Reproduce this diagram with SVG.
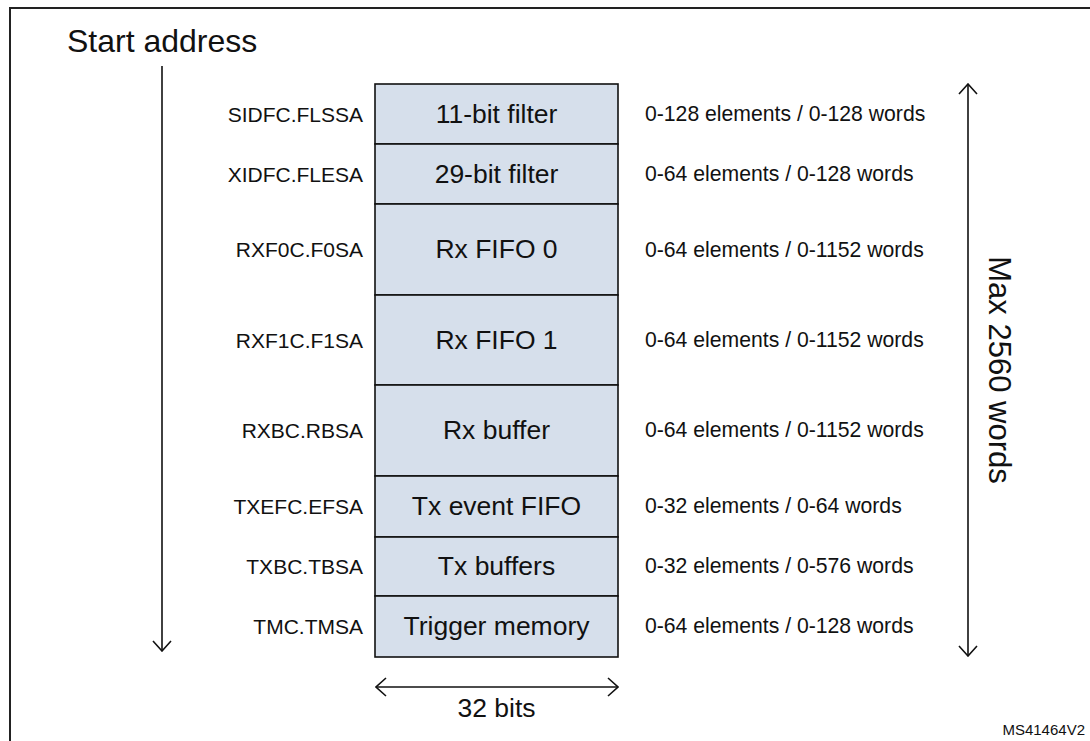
<svg xmlns="http://www.w3.org/2000/svg" width="1090" height="741" viewBox="0 0 1090 741">
<style>
text{font-family:"Liberation Sans",Arial,sans-serif;fill:#111}
.cell{fill:#d6dfeb;stroke:#111;stroke-width:1.6}
.bl{font-size:26.5px;text-anchor:middle}
.ll{font-size:21px;text-anchor:end}
.rl{font-size:21.2px}
.ln{stroke:#111;stroke-width:1.6;fill:none}
</style>
<defs>
<marker id="ah" viewBox="0 0 12 20" refX="11" refY="10" markerWidth="12" markerHeight="20" markerUnits="userSpaceOnUse" orient="auto-start-reverse">
<path d="M1,1 L11,10 L1,19" fill="none" stroke="#111" stroke-width="1.6"/>
</marker>
</defs>
<rect width="1090" height="741" fill="#fff"/>
<path d="M10,741 V8 H1090" fill="none" stroke="#222" stroke-width="2"/>
<text x="67" y="52" style="font-size:32px">Start address</text>
<g id="connectors">
<line class="ln" x1="162" y1="66" x2="162" y2="651" marker-end="url(#ah)"/>
<line class="ln" x1="968" y1="84" x2="968" y2="656" marker-start="url(#ah)" marker-end="url(#ah)"/>
<line class="ln" x1="376" y1="687" x2="618" y2="687" marker-start="url(#ah)" marker-end="url(#ah)"/>
</g>
<g id="n1"><rect class="cell" x="375" y="84" width="243" height="60"/><text class="bl" x="496.5" y="123">11-bit filter</text><text class="ll" x="363" y="122">SIDFC.FLSSA</text><text class="rl" x="645" y="121">0-128 elements / 0-128 words</text></g>
<g id="n2"><rect class="cell" x="375" y="144" width="243" height="60"/><text class="bl" x="496.5" y="183">29-bit filter</text><text class="ll" x="363" y="182">XIDFC.FLESA</text><text class="rl" x="645" y="181">0-64 elements / 0-128 words</text></g>
<g id="n3"><rect class="cell" x="375" y="204" width="243" height="91"/><text class="bl" x="496.5" y="258">Rx FIFO 0</text><text class="ll" x="363" y="257">RXF0C.F0SA</text><text class="rl" x="645" y="257">0-64 elements / 0-1152 words</text></g>
<g id="n4"><rect class="cell" x="375" y="295" width="243" height="90"/><text class="bl" x="496.5" y="349">Rx FIFO 1</text><text class="ll" x="363" y="348">RXF1C.F1SA</text><text class="rl" x="645" y="347">0-64 elements / 0-1152 words</text></g>
<g id="n5"><rect class="cell" x="375" y="385" width="243" height="91"/><text class="bl" x="496.5" y="439">Rx buffer</text><text class="ll" x="363" y="438">RXBC.RBSA</text><text class="rl" x="645" y="437">0-64 elements / 0-1152 words</text></g>
<g id="n6"><rect class="cell" x="375" y="476" width="243" height="61"/><text class="bl" x="496.5" y="515">Tx event FIFO</text><text class="ll" x="363" y="514">TXEFC.EFSA</text><text class="rl" x="645" y="513">0-32 elements / 0-64 words</text></g>
<g id="n7"><rect class="cell" x="375" y="537" width="243" height="59"/><text class="bl" x="496.5" y="575">Tx buffers</text><text class="ll" x="363" y="574">TXBC.TBSA</text><text class="rl" x="645" y="573">0-32 elements / 0-576 words</text></g>
<g id="n8"><rect class="cell" x="375" y="596" width="243" height="61"/><text class="bl" x="496.5" y="635">Trigger memory</text><text class="ll" x="363" y="634">TMC.TMSA</text><text class="rl" x="645" y="633">0-64 elements / 0-128 words</text></g>
<text x="496.5" y="717" style="font-size:26.5px;text-anchor:middle">32 bits</text>
<text transform="translate(989,370) rotate(90)" style="font-size:31px;text-anchor:middle">Max 2560 words</text>
<text x="1085" y="735" style="font-size:15px;text-anchor:end">MS41464V2</text>
</svg>
